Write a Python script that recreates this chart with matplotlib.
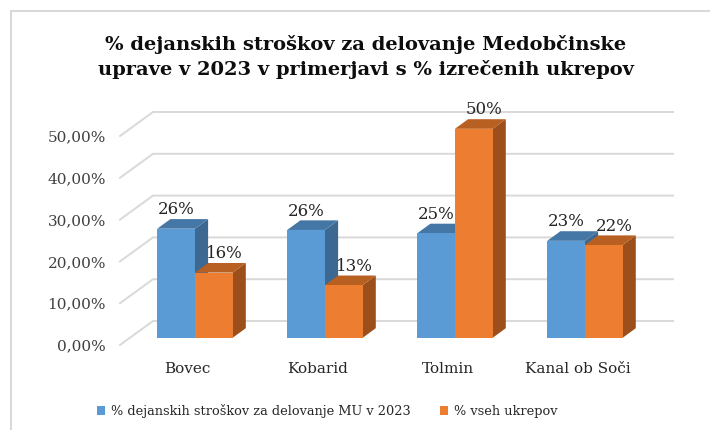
import numpy as np
import matplotlib
matplotlib.use("Agg")
import matplotlib.pyplot as plt
from matplotlib.patches import Polygon, Rectangle

# data
categories = ["Bovec", "Kobarid", "Tolmin", "Kanal ob Soči"]
stroski = [0.261, 0.258, 0.250, 0.232]
ukrepi = [0.156, 0.126, 0.500, 0.222]
series_names = ["% dejanskih stroškov za delovanje MU v 2023", "% vseh ukrepov"]
y_ticks = [0.0, 0.1, 0.2, 0.3, 0.4, 0.5]
title = "% dejanskih stroškov za delovanje Medobčinske\nuprave v 2023 v primerjavi s % izrečenih ukrepov"

COLORS = {
    'front': ('#5B9BD5', '#ED7D31'),
    'top': ('#4577A6', '#B85F22'),
    'side': ('#3D6892', '#9C4E1B'),
}
FONT = 'DejaVu Serif'
W, H = 710, 430

fig = plt.figure(figsize=(W / 100, H / 100), dpi=100)
fig.patch.set_facecolor('white')
fig.add_artist(Rectangle((11 / W, -0.05), 1.2, 1 - 11 / H + 0.05, transform=fig.transFigure,
                         fill=False, edgecolor='#d9d9d9', linewidth=1.5))

# axes: x in category units (front floor 0..4), y in value units (front plane)
px_x = 130.0
px_y = 418.0
left_px, base_px = 120, 345
ax = fig.add_axes([left_px / W, 1 - base_px / H, 578 / W, 250 / H])
ax.set_xlim(0, 578 / px_x)
ax.set_ylim(0, 250 / px_y)
for s in ax.spines.values():
    s.set_visible(False)

DX = 33 / px_x     # depth offset of floor (category units)
DY = 24 / px_y     # depth offset of floor (value units)
n = len(categories)

# gridlines: diagonal on side wall + back wall line
for v in y_ticks:
    ax.plot([0, DX, n + DX], [v, v + DY, v + DY], color='#d9d9d9', lw=1.4,
            solid_joinstyle='miter', zorder=1, clip_on=False)

# bars
bw = 0.29
d0, d1 = 0.3, 0.7
ddx, ddy = (d1 - d0) * DX, (d1 - d0) * DY
for i in range(n):
    for s, vals in enumerate((stroski, ukrepi)):
        v = vals[i]
        x0 = i + 0.5 - bw + s * bw + d0 * DX
        y0 = d0 * DY
        x1, y1 = x0 + bw, y0 + v
        side = Polygon([(x1, y0), (x1 + ddx, y0 + ddy), (x1 + ddx, y1 + ddy), (x1, y1)],
                       facecolor=COLORS['side'][s], edgecolor='none', zorder=2)
        top = Polygon([(x0, y1), (x1, y1), (x1 + ddx, y1 + ddy), (x0 + ddx, y1 + ddy)],
                      facecolor=COLORS['top'][s], edgecolor='none', zorder=2)
        front = Polygon([(x0, y0), (x1, y0), (x1, y1), (x0, y1)],
                        facecolor=COLORS['front'][s], edgecolor='none', zorder=2)
        for p in (side, top, front):
            p.set_clip_on(False)
            ax.add_patch(p)
        ax.text(x0 + bw / 2 + s * ddx * 0.8, y1 + ddy + 0.002, '{:.0%}'.format(v),
                ha='center', va='bottom', fontsize=12, family=FONT, color='#262626', zorder=3)

# axis labels
ax.set_yticks(y_ticks)
ax.set_yticklabels(['{:.2f}%'.format(t * 100).replace('.', ',') for t in y_ticks])
ax.set_xticks(np.arange(n) + 0.52)
ax.set_xticklabels(categories)
ax.tick_params(axis='y', length=0, pad=10, labelsize=11, labelcolor='#404040')
ax.tick_params(axis='x', length=0, pad=12, labelsize=11, labelcolor='#262626')
for lab in ax.get_xticklabels() + ax.get_yticklabels():
    lab.set_family(FONT)

fig.text(366 / W, 1 - 57 / H, title, ha='center', va='center', fontsize=14,
         fontweight='bold', family=FONT, color='#0d0d0d', linespacing=1.35)

# legend
handles = [Rectangle((0, 0), 1, 1, facecolor=c, edgecolor='none') for c in COLORS['front']]
fig.legend(handles, series_names, loc='center', bbox_to_anchor=(0.461, 1 - 411 / H), ncol=2,
           frameon=False, prop={'family': FONT, 'size': 9.3}, handlelength=0.6, handleheight=0.6,
           handletextpad=0.45, columnspacing=2.3, labelcolor='#262626')

fig.savefig('out.png', dpi=100)
